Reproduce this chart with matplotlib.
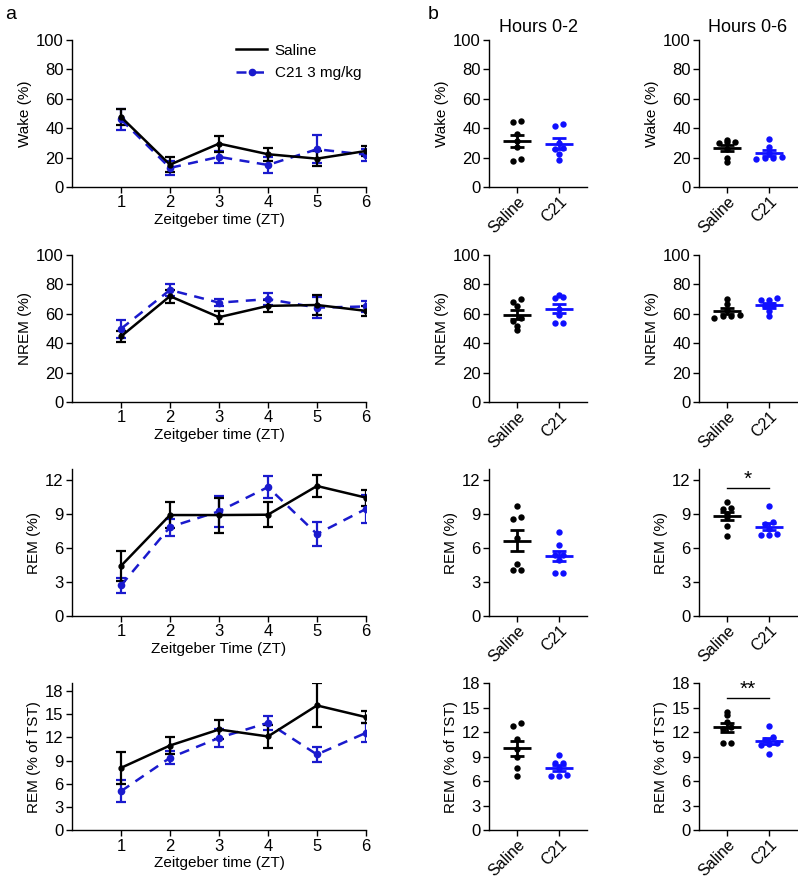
import matplotlib
matplotlib.use("Agg")
import matplotlib.pyplot as plt
from matplotlib.lines import Line2D
import numpy as np

plt.rcParams['font.family'] = ['Liberation Sans', 'DejaVu Sans']
plt.rcParams['font.size'] = 11

BLACK = '#000000'
BLUE_LINE = '#1a1acd'
BLUE_DOT = '#1010ff'

# ---- panel a: hourly time course (mean, sem) ----
zt = [1, 2, 3, 4, 5, 6]

wake_sal = [47.7, 15.2, 29.5, 22.3, 19.3, 24.5]
wake_sal_sem = [5.7, 5.0, 5.5, 4.5, 5.0, 3.5]
wake_c21 = [46.0, 13.0, 20.5, 15.0, 25.7, 22.0]
wake_c21_sem = [7.0, 4.5, 4.0, 5.5, 9.5, 4.0]

nrem_sal = [44.6, 72.0, 57.7, 65.4, 66.0, 62.0]
nrem_sal_sem = [3.5, 4.5, 4.5, 4.0, 6.5, 3.5]
nrem_c21 = [49.8, 76.2, 67.6, 70.0, 64.2, 65.0]
nrem_c21_sem = [6.0, 4.0, 2.5, 4.0, 7.0, 3.5]

rem_sal = [4.43, 8.93, 8.93, 8.96, 11.5, 10.47]
rem_sal_sem = [1.3, 1.15, 1.55, 1.1, 0.95, 0.7]
rem_c21 = [2.7, 7.87, 9.26, 11.4, 7.25, 9.47]
rem_c21_sem = [0.65, 0.75, 1.35, 1.0, 1.1, 1.2]

tst_sal = [8.07, 10.96, 13.03, 12.13, 16.14, 14.63]
tst_sal_sem = [2.1, 1.1, 1.2, 1.5, 2.85, 0.8]
tst_c21 = [5.05, 9.37, 11.95, 13.9, 9.8, 12.6]
tst_c21_sem = [1.4, 0.85, 1.2, 0.9, 1.0, 1.25]

# ---- panel b: individual animals ----
groups = ['Saline', 'C21']

wake_02_sal = [45.0, 44.0, 36.0, 31.0, 27.0, 17.7, 18.8]
wake_02_c21 = [42.6, 41.7, 30.0, 25.8, 26.3, 22.4, 18.2]
wake_06_sal = [32.0, 29.7, 30.8, 30.5, 26.0, 20.0, 16.8]
wake_06_c21 = [32.5, 27.5, 23.3, 19.0, 20.6, 19.9, 19.9]

nrem_02_sal = [70.0, 68.0, 65.5, 57.0, 55.0, 52.0, 49.0]
nrem_02_c21 = [72.8, 70.5, 71.6, 59.0, 53.5, 53.5, 63.0]
nrem_06_sal = [67.0, 70.0, 59.0, 57.0, 58.5, 58.5, 62.6]
nrem_06_c21 = [69.5, 71.0, 69.3, 66.0, 65.0, 58.6, 62.0]

rem_02_sal = [9.7, 8.6, 8.72, 6.9, 4.6, 4.08, 4.08]
rem_02_c21 = [7.4, 6.3, 5.4, 5.4, 4.97, 3.84, 3.84]
rem_06_sal = [10.05, 9.55, 9.46, 9.05, 8.75, 7.92, 7.1]
rem_06_c21 = [9.7, 8.28, 8.1, 7.7, 7.18, 7.24, 7.18]

tst_02_sal = [13.1, 12.8, 11.2, 10.0, 9.0, 7.6, 6.7]
tst_02_c21 = [9.2, 8.2, 8.2, 7.6, 6.67, 6.75, 6.67]
tst_06_sal = [14.5, 14.1, 13.3, 12.7, 10.7, 10.7, 12.4]
tst_06_c21 = [12.77, 11.45, 11.1, 10.7, 10.6, 10.4, 9.4]

row_labels = ['Wake (%)', 'NREM (%)', 'REM (%)', 'REM (% of TST)']
x_labels = ['Zeitgeber time (ZT)', 'Zeitgeber time (ZT)',
            'Zeitgeber Time (ZT)', 'Zeitgeber time (ZT)']


def style_axes(ax):
    for s in ['top', 'right']:
        ax.spines[s].set_visible(False)
    for s in ['left', 'bottom']:
        ax.spines[s].set_linewidth(1.0)
    ax.tick_params(direction='out', length=4, width=1.0, labelsize=12, pad=2)


def swarm_offsets(values, span, step):
    """Spread points that sit close to each other side by side."""
    values = np.asarray(values)
    offsets = np.zeros(len(values))
    used = np.zeros(len(values), dtype=bool)
    order = np.argsort(values)
    for i in order:
        if used[i]:
            continue
        close = [j for j in order if not used[j] and abs(values[j] - values[i]) <= span]
        n = len(close)
        for k, j in enumerate(close):
            offsets[j] = (k - (n - 1) / 2) * step
            used[j] = True
    return offsets


def time_course(ax, sal, sal_err, c21, c21_err, ylim, yticks, ylabel, xlabel):
    ax.errorbar(zt, c21, yerr=c21_err, color=BLUE_LINE, lw=1.8, ls=(0, (4, 3)),
                marker='o', ms=4.5, capsize=3.5, capthick=1.6, elinewidth=1.6)
    ax.errorbar(zt, sal, yerr=sal_err, color=BLACK, lw=1.8, marker='o', ms=3.5,
                capsize=3.5, capthick=1.6, elinewidth=1.6)
    ax.set_xlim(0, 6)
    ax.set_xticks(zt)
    ax.set_ylim(*ylim)
    ax.set_yticks(yticks)
    ax.set_ylabel(ylabel, fontsize=11, labelpad=3)
    ax.set_xlabel(xlabel, fontsize=11, labelpad=2)
    style_axes(ax)


def dot_plot(ax, sal, c21, ylim, yticks, ylabel, span):
    for i, (vals, col) in enumerate([(sal, BLACK), (c21, BLUE_DOT)]):
        vals = np.asarray(vals)
        off = swarm_offsets(vals, span, 0.2)
        ax.plot(i + off, vals, 'o', color=col, ms=4.6, mec='none', zorder=2)
        m = vals.mean()
        sem = vals.std(ddof=1) / np.sqrt(len(vals))
        ax.hlines(m, i - 0.33, i + 0.33, color=col, lw=2.0, zorder=3)
        ax.errorbar(i, m, yerr=sem, color=col, capsize=5, capthick=2.0,
                    elinewidth=2.0, fmt='none', zorder=3)
    ax.set_xlim(-0.667, 1.667)
    ax.set_xticks([0, 1])
    ax.set_ylim(*ylim)
    ax.set_yticks(yticks)
    ax.set_ylabel(ylabel, fontsize=11, labelpad=3)
    style_axes(ax)
    ax.tick_params(axis='x', pad=1)
    ax.set_xticklabels(groups, rotation=45, ha='right', va='top',
                       rotation_mode='anchor', fontsize=11.5)


def sig_bar(ax, y, text, ty):
    ax.plot([0, 1], [y, y], color=BLACK, lw=1.0)
    ax.text(0.5, ty, text, ha='center', va='center', fontsize=15)


fig = plt.figure(figsize=(7.98, 8.8), dpi=100)

bottoms = [0.7875, 0.5432, 0.30, 0.0565]
h = 0.167
left_a, w_a = 0.0902, 0.3684
left_b1, left_b2, w_b = 0.6128, 0.876, 0.1228

ylims_a = [(0, 100), (0, 100), (0, 13), (0, 19)]
ylims_b = [(0, 100), (0, 100), (0, 13), (0, 18)]
yticks = [[0, 20, 40, 60, 80, 100], [0, 20, 40, 60, 80, 100],
          [0, 3, 6, 9, 12], [0, 3, 6, 9, 12, 15, 18]]

series_a = [(wake_sal, wake_sal_sem, wake_c21, wake_c21_sem),
            (nrem_sal, nrem_sal_sem, nrem_c21, nrem_c21_sem),
            (rem_sal, rem_sal_sem, rem_c21, rem_c21_sem),
            (tst_sal, tst_sal_sem, tst_c21, tst_c21_sem)]
series_b = [((wake_02_sal, wake_02_c21), (wake_06_sal, wake_06_c21)),
            ((nrem_02_sal, nrem_02_c21), (nrem_06_sal, nrem_06_c21)),
            ((rem_02_sal, rem_02_c21), (rem_06_sal, rem_06_c21)),
            ((tst_02_sal, tst_02_c21), (tst_06_sal, tst_06_c21))]
spans = [2.0, 2.0, 0.25, 0.35]

right_axes = []
for r in range(4):
    ax = fig.add_axes([left_a, bottoms[r], w_a, h])
    time_course(ax, *series_a[r], ylims_a[r], yticks[r], row_labels[r], x_labels[r])
    if r == 0:
        handles = [Line2D([], [], color=BLACK, lw=1.8),
                   Line2D([], [], color=BLUE_LINE, lw=1.8, ls=(0, (4, 3)),
                          marker='o', ms=4.5)]
        ax.legend(handles, ['Saline', 'C21 3 mg/kg'], loc='upper right',
                  bbox_to_anchor=(1.03, 1.07), frameon=False, fontsize=11,
                  handlelength=2.0, handletextpad=0.5, labelspacing=0.55)
    row = []
    for c, lx in enumerate([left_b1, left_b2]):
        bx = fig.add_axes([lx, bottoms[r], w_b, h])
        sal, c21 = series_b[r][c]
        dot_plot(bx, sal, c21, ylims_b[r], yticks[r], row_labels[r], spans[r])
        row.append(bx)
    right_axes.append(row)

right_axes[0][0].set_title('Hours 0-2', fontsize=13, pad=6)
right_axes[0][1].set_title('Hours 0-6', fontsize=13, pad=6)
sig_bar(right_axes[2][1], 11.3, '*', 12.1)
sig_bar(right_axes[3][1], 16.2, '**', 17.3)

fig.text(0.006, 0.983, 'a', fontsize=14, va='center')
fig.text(0.536, 0.983, 'b', fontsize=14, va='center')

fig.savefig('out.png', dpi=100)
